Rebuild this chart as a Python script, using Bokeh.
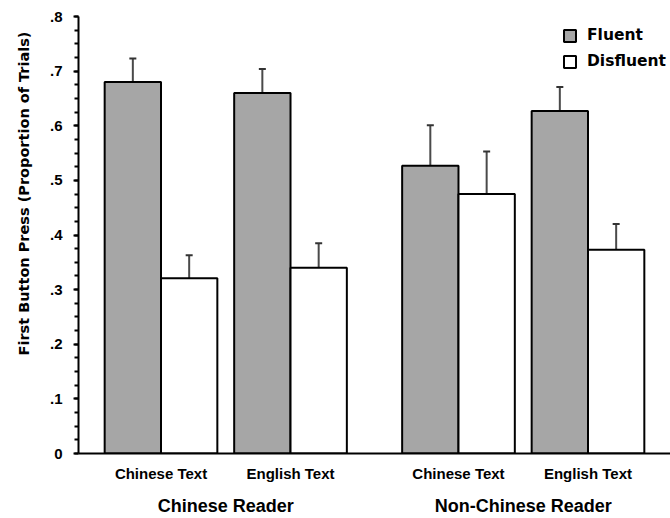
from bokeh.plotting import figure
from bokeh.models import (ColumnDataSource, FactorRange, SingleIntervalTicker, CustomJSTickFormatter,
                          Whisker, TeeHead, Legend, LegendItem, Title)
from bokeh.transform import dodge
from bokeh.embed import file_html
from bokeh.resources import INLINE

# ---- data ----
readers = ["Chinese Reader", "Chinese Reader", "Non-Chinese Reader", "Non-Chinese Reader"]
texts = ["Chinese Text", "English Text", "Chinese Text", "English Text"]
fluent = [0.680, 0.660, 0.527, 0.627]
disfluent = [0.321, 0.340, 0.475, 0.373]
fluent_err = [0.043, 0.044, 0.074, 0.044]
disfluent_err = [0.042, 0.045, 0.078, 0.047]
series_names = ["Fluent", "Disfluent"]
y_tick_labels = ["0", ".1", ".2", ".3", ".4", ".5", ".6", ".7", ".8"]
y_title = "First Button Press (Proportion of Trials)"

factors = list(zip(readers, texts))
src = ColumnDataSource(dict(
    x=factors,
    fluent=fluent,
    disfluent=disfluent,
    fluent_top=[v + e for v, e in zip(fluent, fluent_err)],
    disfluent_top=[v + e for v, e in zip(disfluent, disfluent_err)],
))

x_range = FactorRange(factors=factors, factor_padding=0.0, group_padding=0.297,
                      range_padding=0.0638, range_padding_units="percent")

p = figure(x_range=x_range, y_range=(0, 0.8), width=670, height=518,
           output_backend="svg", toolbar_location=None, title=None,
           min_border_left=78, min_border_right=0, min_border_top=16, min_border_bottom=0)
p.outline_line_color = None
p.xgrid.grid_line_color = None
p.ygrid.grid_line_color = None
p.background_fill_color = "white"
p.border_fill_color = "white"

BW = 0.435
OFF = 0.2175
GRAY = "#a6a6a6"

r_f = p.vbar(x=dodge("x", -OFF, range=p.x_range), top="fluent", width=BW, source=src,
             fill_color=GRAY, line_color="black", line_width=2)
r_d = p.vbar(x=dodge("x", OFF, range=p.x_range), top="disfluent", width=BW, source=src,
             fill_color="white", line_color="black", line_width=2)

for off, lo, hi in [(-OFF, "fluent", "fluent_top"), (OFF, "disfluent", "disfluent_top")]:
    w = Whisker(base=dodge("x", off, range=p.x_range), lower=lo, upper=hi, source=src,
                line_color="#4a4a4a", line_width=2,
                upper_head=TeeHead(size=7, line_width=2, line_color="#333333"),
                lower_head=None)
    p.add_layout(w)

# y axis
yax = p.yaxis[0]
yax.ticker = SingleIntervalTicker(interval=0.1, num_minor_ticks=4)
yax.formatter = CustomJSTickFormatter(args=dict(labels=y_tick_labels),
                                      code="return labels[Math.round(tick * 10)];")
yax.axis_line_width = 2
yax.axis_line_color = "black"
yax.major_tick_line_width = 2
yax.minor_tick_line_width = 2
yax.major_tick_line_color = "black"
yax.minor_tick_line_color = "black"
yax.major_tick_in = 0
yax.major_tick_out = 5
yax.minor_tick_in = 0
yax.minor_tick_out = 4
yax.major_label_standoff = 11
yax.major_label_text_font = "Liberation Sans"
yax.major_label_text_font_style = "bold"
yax.major_label_text_font_size = "15px"
yax.major_label_text_color = "black"

# x axis
xax = p.xaxis[0]
xax.axis_line_width = 2
xax.axis_line_color = "black"
xax.major_tick_line_color = None
xax.major_tick_in = 0
xax.major_tick_out = 0
xax.minor_tick_line_color = None
xax.separator_line_color = None
xax.major_label_standoff = 11
xax.major_label_text_font = "Liberation Sans"
xax.major_label_text_font_style = "bold"
xax.major_label_text_font_size = "15px"
xax.major_label_text_color = "black"
xax.group_text_font = "Liberation Sans"
xax.group_text_font_style = "bold"
xax.group_text_font_size = "18px"
xax.group_text_color = "black"

# y title as a left-side title, shifted towards the top
t = Title(text=y_title, align="right", offset=15, vertical_align="top", standoff=26,
          text_font="DejaVu Sans", text_font_style="bold", text_font_size="14.5px",
          text_color="black")
p.add_layout(t, "left")

legend = Legend(items=[LegendItem(label=series_names[0], renderers=[r_f]),
                       LegendItem(label=series_names[1], renderers=[r_d])],
                location=(484, 383), padding=0, margin=0, spacing=8,
                glyph_width=15, glyph_height=15, label_height=15, label_standoff=10,
                border_line_color=None, background_fill_alpha=0,
                label_text_font="DejaVu Sans", label_text_font_style="bold",
                label_text_font_size="15.5px", label_text_color="black")
p.add_layout(legend)

open("out.html", "w").write(file_html(p, INLINE))
